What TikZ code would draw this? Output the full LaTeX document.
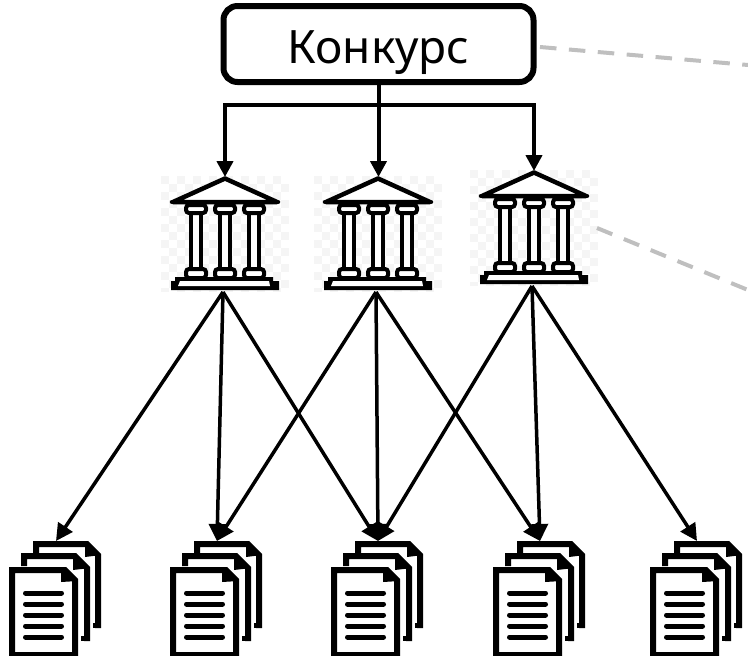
\documentclass[tikz,border=0pt]{standalone}
\usepackage{fontspec}
\setmainfont{Noto Sans}
\usetikzlibrary{arrows.meta}
\definecolor{dashgray}{HTML}{BFBFBF}
\definecolor{checkgray}{HTML}{F5F5F5}
\tikzset{
  x=1pt,y=-1pt,
  contest/.style={draw,line width=6pt,rounded corners=14pt,minimum width=310pt,minimum height=76pt,inner sep=0pt,text height=38pt,text depth=0pt,font=\fontsize{46}{50}\selectfont},
  bus/.style={line width=4pt},
  busarrow/.style={line width=4pt,-{Triangle[width=16pt,length=16pt]}},
  link/.style={line width=3.5pt,-{Triangle[width=17pt,length=17pt]}},
  note/.style={dashgray,line width=4pt,dash pattern=on 16.5pt off 12.5pt},
  temple/.pic={
    \foreach \i in {0,...,15}{\foreach \j in {0,...,14}{
      \pgfmathparse{int(mod(\i+\j,2))}
      \ifnum\pgfmathresult=0
        \fill[checkgray] ({-64+8*\i},{-1+8*\j}) rectangle ++(8,{\j==14?4:8});
      \fi}}
    \draw[line width=4.5pt,line join=round,fill=white] (0,1.5) -- (-52,25) -- (52,25) -- cycle;
    \draw[line width=4.5pt,line cap=round] (-53,25) -- (53,25);
    \foreach \c in {-29,0,29}{
      \draw[line width=4.5pt,fill=white] ({\c-5},35) rectangle ({\c+5},93);
      \draw[line width=4pt,fill=white,rounded corners=3pt] ({\c-10},28) rectangle ({\c+10},36);
      \draw[line width=4pt,fill=white,rounded corners=3pt] ({\c-10},92) rectangle ({\c+10},101);
    }
    \fill (-50,100) -- (48,100) -- (48,104) -- (54,104) -- (54,113) -- (-54,113) -- (-54,104) -- (-50,104) -- cycle;
    \fill[white] (-45,104) -- (44,104) -- (45,109) -- (-47,109) -- cycle;
    \coordinate (-top) at (0,0);
    \coordinate (-bot) at (-2,115);
  },
  docstack/.pic={
    \begin{scope}[line width=6pt,miter limit=2]
      \draw (27,-13) -- (27,-23) -- (78,-23) -- (89,-12) -- (89,61);
      \fill (76,-26) -- (92,-12) -- (76,-10) -- cycle;
      \fill (84,56) rectangle (92,61);
      \draw (15,-1) -- (15,-11) -- (66,-11) -- (78,1) -- (78,74);
      \fill (64,-14) -- (81,1) -- (64,3) -- cycle;
      \fill (72,69) rectangle (81,74);
      \draw[fill=white] (3,3) -- (56,3) -- (66,13) -- (66,88) -- (3,88) -- cycle;
      \fill (52,0) -- (69,14) -- (52,15) -- cycle;
    \end{scope}
    \foreach \y in {26,37,48,59,70}
      \draw[line width=5pt,line cap=round] (16.5,\y) -- (52.5,\y);
    \coordinate (-top) at (47,-26);
  }
}
\begin{document}
\begin{tikzpicture}
\useasboundingbox (0,0) rectangle (748,656);
\node[contest] (contest) at (378.5,44) {Конкурс};
\pic (t1) at (225,177) {temple};
\pic (t2) at (378,177) {temple};
\pic (t3) at (534,171) {temple};
\pic (d1) at (9,567) {docstack};
\pic (d2) at (170,567) {docstack};
\pic (d3) at (331,567) {docstack};
\pic (d4) at (493,567) {docstack};
\pic (d5) at (650,567) {docstack};
\coordinate (bus) at (contest.south |- 0,105);
\coordinate (note1) at (748,65);
\coordinate (note2) at (748,290);
\coordinate (note1s) at (540,47);
\coordinate (note2s) at (597,228);
\draw[bus] (contest.south) -- (bus);
\draw[busarrow] (bus) -- (bus |- t2-top);
\draw[busarrow] (bus) -| (t1-top);
\draw[busarrow] (bus) -| (t3-top);
\foreach \a/\b in {t1/d1,t1/d2,t1/d3,t2/d2,t2/d3,t2/d4,t3/d3,t3/d4,t3/d5}
  \draw[link] (\a-bot) -- (\b-top);
\draw[note] (note1s) -- (note1);
\draw[note] (note2s) -- (note2);
\end{tikzpicture}
\end{document}
